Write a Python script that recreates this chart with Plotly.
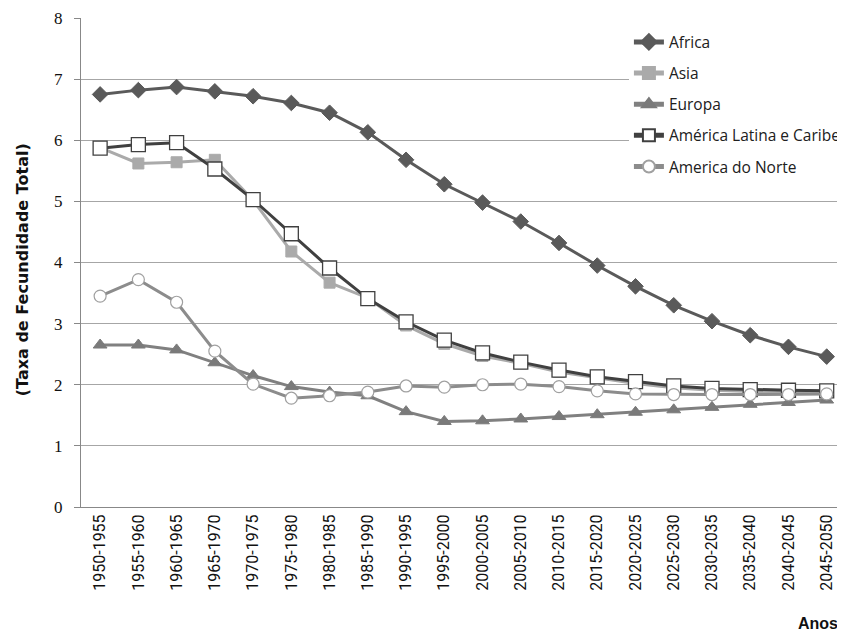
import plotly.graph_objects as go

periodos = ["1950-1955", "1955-1960", "1960-1965", "1965-1970", "1970-1975",
            "1975-1980", "1980-1985", "1985-1990", "1990-1995", "1995-2000",
            "2000-2005", "2005-2010", "2010-2015", "2015-2020", "2020-2025",
            "2025-2030", "2030-2035", "2035-2040", "2040-2045", "2045-2050"]

africa = [6.75, 6.82, 6.87, 6.80, 6.72, 6.61, 6.45, 6.13, 5.68, 5.28,
          4.98, 4.67, 4.32, 3.95, 3.61, 3.30, 3.04, 2.81, 2.62, 2.46]
asia = [5.88, 5.62, 5.64, 5.68, 5.02, 4.18, 3.67, 3.42, 2.97, 2.67,
        2.47, 2.35, 2.21, 2.11, 2.02, 1.95, 1.91, 1.89, 1.88, 1.88]
europa = [2.65, 2.65, 2.57, 2.36, 2.15, 1.97, 1.88, 1.82, 1.56, 1.40,
          1.41, 1.44, 1.48, 1.51, 1.55, 1.59, 1.63, 1.68, 1.71, 1.75]
america_latina = [5.87, 5.93, 5.96, 5.53, 5.03, 4.47, 3.91, 3.41, 3.03, 2.73,
                  2.52, 2.37, 2.24, 2.13, 2.05, 1.98, 1.94, 1.92, 1.91, 1.90]
america_norte = [3.45, 3.72, 3.35, 2.55, 2.01, 1.78, 1.82, 1.88, 1.98, 1.96,
                 2.00, 2.01, 1.97, 1.90, 1.85, 1.84, 1.84, 1.84, 1.84, 1.85]

series = [
    ("Africa", africa, "#5a5a5a", dict(symbol="diamond", size=12, color="#5a5a5a",
                                        line=dict(color="#5a5a5a", width=1))),
    ("Asia", asia, "#aaaaaa", dict(symbol="square", size=11, color="#aaaaaa",
                                    line=dict(color="#aaaaaa", width=1))),
    ("Europa", europa, "#808080", dict(symbol="triangle-up", size=12, color="#7a7a7a",
                                        line=dict(color="#7a7a7a", width=1))),
    ("América Latina e Caribe", america_latina, "#404040",
     dict(symbol="square", size=14, color="white", line=dict(color="#404040", width=1.3))),
    ("America do Norte", america_norte, "#8c8c8c",
     dict(symbol="circle", size=12, color="white", line=dict(color="#a0a0a0", width=1.2))),
]

fig = go.Figure()
for i, (name, vals, col, mk) in enumerate(series):
    fig.add_trace(go.Scatter(x=periodos, y=vals, name=name, mode="lines+markers",
                             legendgroup=f"g{i}",
                             line=dict(color=col, width=3), marker=mk))

PW = 764
PH = 489
fig.update_layout(
    width=837, height=627,
    margin=dict(l=73, r=0, t=10, b=128),
    plot_bgcolor="white", paper_bgcolor="white",
    showlegend=True,
    legend=dict(x=0.72, y=0.985, xanchor="left", yanchor="top",
                font=dict(family="Open Sans", size=15.5, color="#202020"),
                bgcolor="white", tracegroupgap=8, itemsizing="constant"),
    xaxis=dict(type="category", range=[-0.5, 19.4], tickangle=-90,
               showgrid=False, showline=True, linecolor="#888888", linewidth=1,
               ticks="", tickfont=dict(family="Roboto", size=16, color="#111111")),
    yaxis=dict(range=[0, 8], dtick=1, showgrid=True, gridcolor="#a6a6a6", gridwidth=1,
               showline=True, linecolor="#888888", linewidth=1, zeroline=False,
               ticks="outside", ticklen=6, tickcolor="#888888", ticklabelstandoff=8,
               tickfont=dict(family="Liberation Serif", size=17, color="#111111")),
    annotations=[
        dict(text="<b>(Taxa de Fecundidade Total)</b>", xref="paper", yref="paper",
             x=(22 - 8 - 73) / PW, y=(499 - 262) / PH, xanchor="center", yanchor="middle",
             textangle=-90, showarrow=False,
             font=dict(family="DejaVu Sans", size=16, color="#111111")),
        dict(text="<b>Anos</b>", xref="paper", yref="paper",
             x=(843 - 8 - 73) / PW, y=-116 / PH, xanchor="right", yanchor="middle",
             showarrow=False,
             font=dict(family="Liberation Sans", size=16, color="#111111")),
    ],
)

fig.write_html("out.html")
